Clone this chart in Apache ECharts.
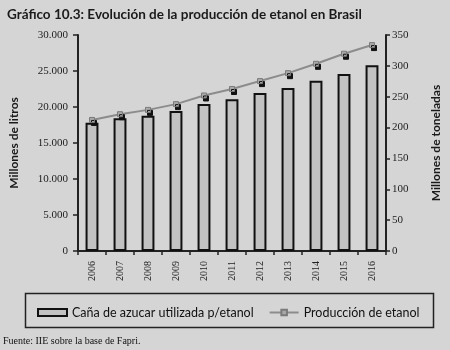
<!DOCTYPE html>
<html>
<head>
<meta charset="utf-8">
<script src="https://cdn.jsdelivr.net/npm/echarts@6/dist/echarts.min.js"></script>
<style>
  html, body { margin: 0; padding: 0; background: #d5d5d5; }
  #chart { width: 450px; height: 350px; }
</style>
</head>
<body>
<div id="chart"></div>
<script>
// años
var years = ['2006', '2007', '2008', '2009', '2010', '2011', '2012', '2013', '2014', '2015', '2016']
// caña de azucar, millones de toneladas (eje derecho)
var cana = [208, 215, 219, 227, 238, 246, 256, 264, 276, 287, 301]
// produccion de etanol, millones de litros (eje izquierdo)
var etanol = [18200, 19000, 19600, 20400, 21600, 22500, 23600, 24700, 26000, 27400, 28600]

var serif = 'Liberation Serif'
var sans = 'Lato'

var chart = echarts.init(document.getElementById('chart'))
var option = {
  backgroundColor: '#d5d5d5',
  animation: false,
  title: {
    text: 'Gráfico 10.3: Evolución de la producción de etanol en Brasil',
    left: 2,
    top: 3,
    textStyle: { fontFamily: sans, fontSize: 13.5, fontWeight: 'bold', color: '#1a1a1a' }
  },
  graphic: [{
    type: 'rect',
    left: 23,
    top: 291,
    shape: { width: 408, height: 34 },
    style: { fill: 'none', stroke: '#222', lineWidth: 1.5 }
  }, {
    type: 'text',
    left: 3,
    top: 336,
    style: { text: 'Fuente: IIE sobre la base de Fapri.', font: '10px "Liberation Serif"', fill: '#111' }
  }],
  legend: {
    left: 32,
    top: 301,
    itemWidth: 29,
    itemHeight: 7,
    itemGap: 15,
    textStyle: { fontFamily: sans, fontSize: 12.5, color: '#111' },
    data: [
      { name: 'Caña de azucar utilizada p/etanol', icon: 'rect' },
      { name: 'Producción de etanol' }
    ]
  },
  grid: { left: 70, right: 57, top: 35, bottom: 99 },
  xAxis: {
    type: 'category',
    data: years,
    axisLine: { lineStyle: { color: '#222', width: 2 } },
    axisTick: { show: true, length: 4, lineStyle: { color: '#222', width: 1.5 } },
    axisLabel: { rotate: 90, margin: 10, fontFamily: serif, fontSize: 10, color: '#222' }
  },
  yAxis: [{
    type: 'value',
    min: 0,
    max: 30000,
    interval: 5000,
    name: 'Millones de litros',
    nameLocation: 'middle',
    nameRotate: 90,
    nameGap: 58,
    nameTextStyle: { fontFamily: sans, fontSize: 12, fontWeight: 'bold', color: '#1a1a1a' },
    splitLine: { show: false },
    axisLine: { show: true, lineStyle: { color: '#222', width: 2 } },
    axisTick: { show: true, length: 5, lineStyle: { color: '#222', width: 1.5 } },
    axisLabel: {
      margin: 10,
      fontFamily: serif,
      fontSize: 11,
      color: '#222',
      formatter: function (v) {
        return String(v).replace(/\B(?=(\d{3})+(?!\d))/g, '.')
      }
    }
  }, {
    type: 'value',
    min: 0,
    max: 350,
    interval: 50,
    name: 'Millones de toneladas',
    nameLocation: 'middle',
    nameRotate: 90,
    nameGap: 44,
    nameTextStyle: { fontFamily: sans, fontSize: 12, fontWeight: 'bold', color: '#1a1a1a' },
    splitLine: { show: false },
    axisLine: { show: true, lineStyle: { color: '#222', width: 2 } },
    axisTick: { show: true, length: 4, lineStyle: { color: '#222', width: 1.5 } },
    axisLabel: { margin: 6, fontFamily: serif, fontSize: 11, color: '#222' }
  }],
  series: [{
    name: 'Caña de azucar utilizada p/etanol',
    type: 'bar',
    yAxisIndex: 1,
    barWidth: '46%',
    itemStyle: { color: '#c2c2c2', borderColor: '#111', borderWidth: 2 },
    data: cana
  }, {
    name: 'Producción de etanol',
    type: 'line',
    yAxisIndex: 0,
    symbol: 'rect',
    symbolSize: 5,
    lineStyle: { color: '#8c8c8c', width: 2 },
    itemStyle: {
      color: '#a8a8a8',
      borderColor: '#7a7a7a',
      borderWidth: 1,
      shadowColor: '#111',
      shadowBlur: 0,
      shadowOffsetX: 2,
      shadowOffsetY: 3
    },
    data: etanol
  }]
}
chart.setOption(option)
</script>
</body>
</html>
